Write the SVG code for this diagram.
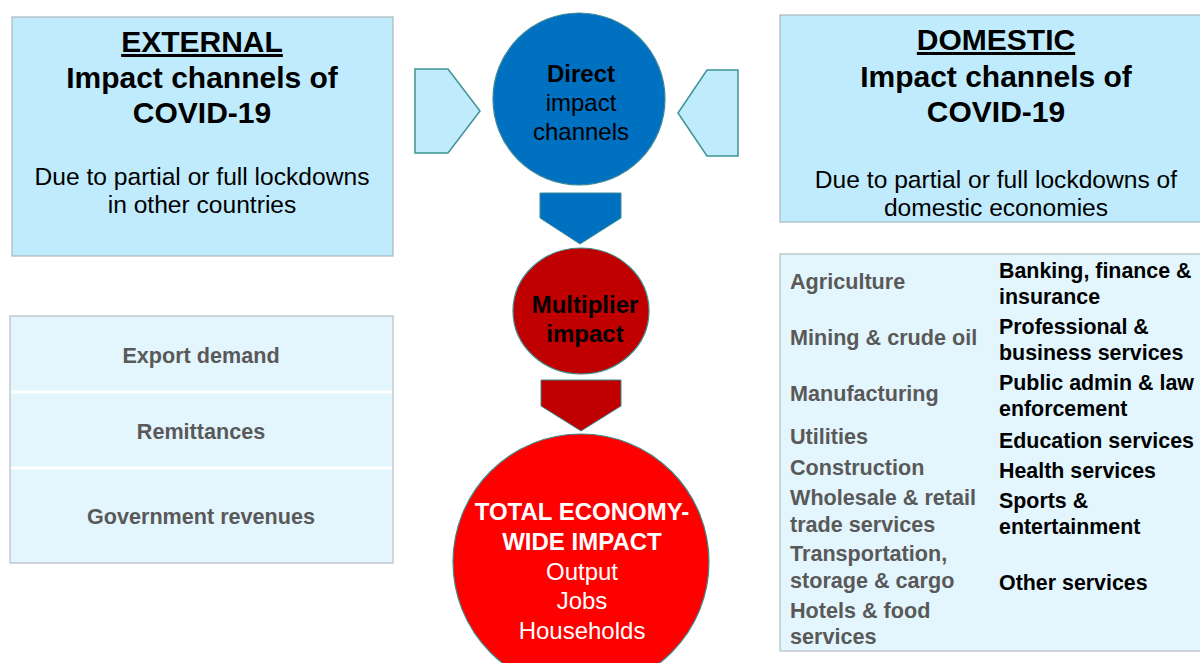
<svg xmlns="http://www.w3.org/2000/svg" width="1200" height="663" viewBox="0 0 1200 663">
<style>
text{font-family:"Liberation Sans",Arial,sans-serif;}
.box{fill:#BFEBFC;stroke:#A9B8BE;stroke-width:1.2;}
.tbl{fill:#E3F6FD;stroke:#B4BFC4;stroke-width:1.2;}
.sep{stroke:#FFFFFF;stroke-width:3;}
.hd{font-size:30px;font-weight:bold;fill:#000;text-anchor:middle;}
.bd{font-size:24.6px;fill:#000;text-anchor:middle;}
.gr{font-size:21.6px;font-weight:bold;fill:#595959;}
.bk{font-size:21.4px;font-weight:bold;fill:#000;}
.arr{fill:#BFEBFC;stroke:#3E9494;stroke-width:1.5;}
.ct{font-size:24px;text-anchor:middle;}
</style>
<g id="external">
<rect class="box" x="12" y="17" width="381" height="239"/>
<text class="hd" x="202" y="52" text-decoration="underline">EXTERNAL</text>
<text class="hd" x="202" y="88">Impact channels of</text>
<text class="hd" x="202" y="123">COVID-19</text>
<text class="bd" x="202" y="185">Due to partial or full lockdowns</text>
<text class="bd" x="202" y="213">in other countries</text>
</g>
<g id="domestic">
<rect class="box" x="780" y="15" width="425" height="207"/>
<text class="hd" x="996" y="50" text-decoration="underline">DOMESTIC</text>
<text class="hd" x="996" y="87">Impact channels of</text>
<text class="hd" x="996" y="122">COVID-19</text>
<text class="bd" x="996" y="188">Due to partial or full lockdowns of</text>
<text class="bd" x="996" y="216">domestic economies</text>
</g>
<g id="external-list">
<rect class="tbl" x="10" y="316" width="383" height="247"/>
<line class="sep" x1="11" y1="392" x2="392" y2="392"/>
<line class="sep" x1="11" y1="468" x2="392" y2="468"/>
<text class="gr" x="201" y="363" text-anchor="middle">Export demand</text>
<text class="gr" x="201" y="439" text-anchor="middle">Remittances</text>
<text class="gr" x="201" y="524" text-anchor="middle">Government revenues</text>
</g>
<g id="domestic-list">
<rect class="tbl" x="780" y="254" width="425" height="397"/>
<text class="gr" x="790" y="289">Agriculture</text>
<text class="gr" x="790" y="345">Mining &amp; crude oil</text>
<text class="gr" x="790" y="401">Manufacturing</text>
<text class="gr" x="790" y="444">Utilities</text>
<text class="gr" x="790" y="475">Construction</text>
<text class="gr" x="790" y="505">Wholesale &amp; retail</text>
<text class="gr" x="790" y="532">trade services</text>
<text class="gr" x="790" y="561">Transportation,</text>
<text class="gr" x="790" y="588">storage &amp; cargo</text>
<text class="gr" x="790" y="618">Hotels &amp; food</text>
<text class="gr" x="790" y="644">services</text>
<text class="bk" x="999" y="278">Banking, finance &amp;</text>
<text class="bk" x="999" y="304">insurance</text>
<text class="bk" x="999" y="334">Professional &amp;</text>
<text class="bk" x="999" y="360">business services</text>
<text class="bk" x="999" y="390">Public admin &amp; law</text>
<text class="bk" x="999" y="416">enforcement</text>
<text class="bk" x="999" y="448">Education services</text>
<text class="bk" x="999" y="478">Health services</text>
<text class="bk" x="999" y="508">Sports &amp;</text>
<text class="bk" x="999" y="534">entertainment</text>
<text class="bk" x="999" y="590">Other services</text>
</g>
<g id="connectors">
<polygon class="arr" points="415,69 448,69 480,111 448,153 415,153"/>
<polygon class="arr" points="738,70 707,70 678,113 707,156 738,156"/>
<polygon points="540,193 621,193 621,218 580,244 540,218" fill="#0070C0" stroke="#3E8A9A" stroke-width="1"/>
<polygon points="541,380 621,380 621,406 581,431 541,406" fill="#C00000" stroke="#3E8A8A" stroke-width="1"/>
</g>
<g id="direct">
<circle cx="579" cy="99" r="86" fill="#0070C0" stroke="#3E8A9A" stroke-width="1.2"/>
<text class="ct" x="581" y="82" font-weight="bold" fill="#000">Direct</text>
<text class="ct" x="581" y="111" fill="#000">impact</text>
<text class="ct" x="581" y="140" fill="#000">channels</text>
</g>
<g id="multiplier">
<ellipse cx="581" cy="311" rx="68" ry="63" fill="#C00000" stroke="#3E8A8A" stroke-width="1.2"/>
<text class="ct" x="585" y="313" font-weight="bold" fill="#000">Multiplier</text>
<text class="ct" x="585" y="342" font-weight="bold" fill="#000">impact</text>
</g>
<g id="total">
<circle cx="581" cy="562" r="128" fill="#FF0000" stroke="#3E8A8A" stroke-width="1.2"/>
<text class="ct" x="582" y="520" font-weight="bold" fill="#FFFFFF">TOTAL ECONOMY-</text>
<text class="ct" x="582" y="550" font-weight="bold" fill="#FFFFFF">WIDE IMPACT</text>
<text class="ct" x="582" y="580" fill="#FFFFFF">Output</text>
<text class="ct" x="582" y="609" fill="#FFFFFF">Jobs</text>
<text class="ct" x="582" y="639" fill="#FFFFFF">Households</text>
</g>
</svg>
